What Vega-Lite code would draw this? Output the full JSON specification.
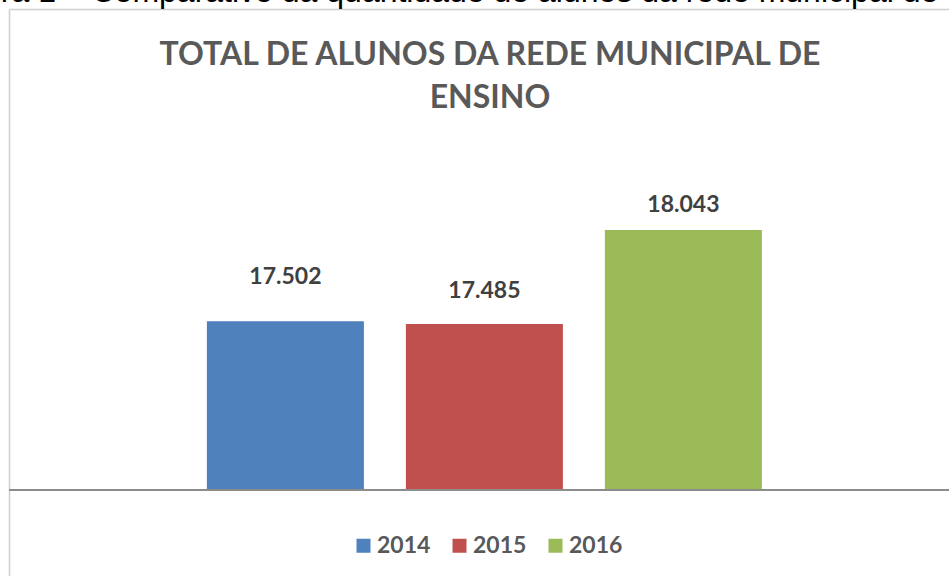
{
  "$schema": "https://vega.github.io/schema/vega-lite/v6.json",
  "width": 940,
  "height": 567,
  "autosize": {"type": "none"},
  "padding": {"left": 9, "top": 9, "right": 0, "bottom": 0},
  "background": "#ffffff",
  "config": {
    "locale": {"number": {"decimal": ",", "thousands": ".", "grouping": [3], "currency": ["R$", ""]}},
    "view": {"stroke": null}
  },
  "title": {
    "text": "Figura 1 – Comparativo da quantidade de alunos da rede municipal de ensino",
    "subtitle": ["TOTAL DE ALUNOS DA REDE MUNICIPAL DE", "ENSINO"],
    "anchor": "middle",
    "orient": "top",
    "frame": "group",
    "font": "Liberation Sans",
    "fontSize": 32,
    "fontWeight": "normal",
    "color": "#000000",
    "lineHeight": 32,
    "subtitleFont": "Lato",
    "subtitleFontSize": 32,
    "subtitleFontWeight": "bold",
    "subtitleColor": "#595959",
    "subtitleLineHeight": 43,
    "subtitlePadding": 31,
    "offset": -106,
    "dx": 11
  },
  "data": {"values": [
    {"ano": "2014", "alunos": 17502},
    {"ano": "2015", "alunos": 17485},
    {"ano": "2016", "alunos": 18043}
  ]},
  "layer": [
    {
      "mark": {"type": "bar", "strokeWidth": 0},
      "encoding": {
        "x": {"field": "ano", "type": "nominal",
          "axis": {"orient": "top", "title": null, "labels": false, "ticks": false, "domain": true, "domainColor": "#d0d0d0", "domainWidth": 1.5, "grid": false},
          "scale": {"domain": ["2014", "2015", "2016"], "paddingInner": 0.211, "paddingOuter": 0.9673, "align": 0.514}},
        "y": {"field": "alunos", "type": "quantitative",
          "axis": {"orient": "left", "title": null, "labels": false, "ticks": false, "domain": true, "domainColor": "#d0d0d0", "domainWidth": 1.5, "grid": false},
          "scale": {"domain": [15990, 19355], "zero": false, "nice": false}},
        "y2": {"datum": 16500},
        "color": {"field": "ano", "type": "nominal",
          "scale": {"domain": ["2014", "2015", "2016"], "range": ["#4F81BD", "#C0504D", "#9BBB59"]},
          "legend": {"orient": "none", "legendX": 343, "legendY": 525, "direction": "horizontal", "title": null,
            "symbolType": "square", "symbolSize": 196, "symbolStrokeWidth": 0, "symbolOpacity": 1,
            "labelFont": "Lato", "labelFontSize": 23, "labelFontWeight": "bold", "labelColor": "#595959",
            "labelOffset": 2, "columnPadding": 17, "padding": 0}}
      }
    },
    {
      "mark": {"type": "rule", "color": "#8c8c8c", "strokeWidth": 2},
      "encoding": {
        "y": {"datum": 16500, "type": "quantitative"}
      }
    },
    {
      "transform": [{"filter": "datum.ano == '2014'"}],
      "mark": {"type": "text", "font": "Lato", "fontSize": 23, "fontWeight": "bold", "color": "#404040", "baseline": "alphabetic", "dy": -37},
      "encoding": {
        "x": {"field": "ano", "type": "nominal"},
        "y": {"field": "alunos", "type": "quantitative"},
        "text": {"field": "alunos", "type": "quantitative", "format": ",d"}}
    },
    {
      "transform": [{"filter": "datum.ano == '2015'"}],
      "mark": {"type": "text", "font": "Lato", "fontSize": 23, "fontWeight": "bold", "color": "#404040", "baseline": "alphabetic", "dy": -26},
      "encoding": {
        "x": {"field": "ano", "type": "nominal"},
        "y": {"field": "alunos", "type": "quantitative"},
        "text": {"field": "alunos", "type": "quantitative", "format": ",d"}}
    },
    {
      "transform": [{"filter": "datum.ano == '2016'"}],
      "mark": {"type": "text", "font": "Lato", "fontSize": 23, "fontWeight": "bold", "color": "#404040", "baseline": "alphabetic", "dy": -18},
      "encoding": {
        "x": {"field": "ano", "type": "nominal"},
        "y": {"field": "alunos", "type": "quantitative"},
        "text": {"field": "alunos", "type": "quantitative", "format": ",d"}}
    }
  ]
}
